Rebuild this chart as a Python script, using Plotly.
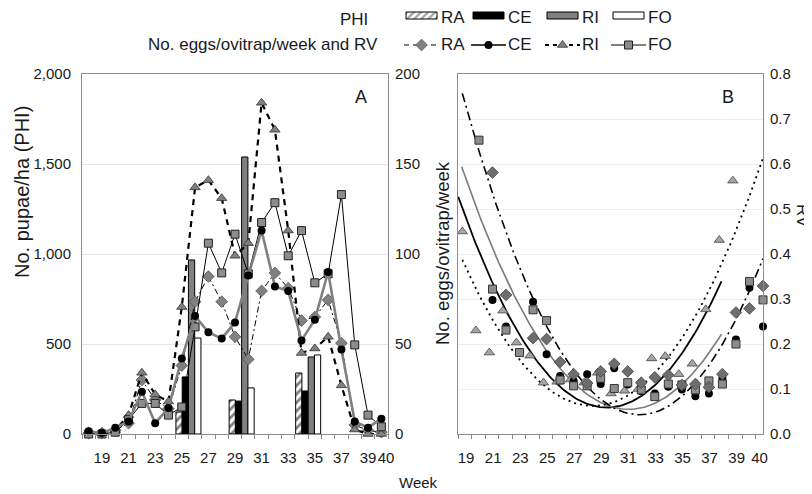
import plotly.graph_objects as go
import numpy as np

W, H = 812, 494
OFF = 8  # the page body margin shifts the figure by this many pixels

# ---------------- data ----------------
weeks = list(range(18, 41))
# Panel A: No. eggs/ovitrap/week (right axis)
eggs_RA = [0.5, 0.5, 2, 6, 30, 19, 14, 38, 73.5, 87.5, 73.5, 54, 41.5, 79.5, 89.5, 81, 63, 65, 74.5, 50.5, 5, 2, 1]
eggs_CE = [1.5, 0.5, 3.5, 7, 23.5, 6, 14.5, 42, 65.5, 56.5, 53, 62, 88, 113, 82, 79.5, 52, 63.5, 90, 47, 7, 3.5, 8.5]
eggs_RI = [1, 0.5, 2, 10.5, 34, 22, 18, 70.5, 137, 141, 131, 99, 106, 184, 169, 113, 45, 47.5, 54, 27, 2.5, 0, 0]
eggs_FO = [0, 0, 1, 8, 17, 17, 10.5, 15, 59.5, 106, 89.5, 111, 89, 117.5, 128.5, 99, 113, 84, 89, 133, 49.5, 10.5, 4]

# Panel A: PHI (No. pupae/ha), left axis
phi_week = [25.5, 29.5, 34.5]
phi_RA = [122, 189, 339]
phi_CE = [317, 183, 239]
phi_RI = [967, 1539, 428]
phi_FO = [533, 256, 439]

# Panel B: RV
rv_weeks_RI = list(range(18, 39))
rv_RI = [0.450, 0.230, 0.181, 0.274, 0.203, 0.174, 0.114, 0.116, 0.121, 0.114, 0.136,
         0.090, 0.096, 0.100, 0.168, 0.173, 0.133, 0.156, 0.277, 0.431, 0.563]
rv_weeks_FO = list(range(19, 41))
rv_FO = [0.653, 0.322, 0.231, 0.181, 0.276, 0.252, 0.120, 0.107, 0.107, 0.124, 0.101,
         0.114, 0.098, 0.083, 0.111, 0.109, 0.098, 0.118, 0.111, 0.200, 0.339, 0.298]
rv_weeks_RA = list(range(20, 41))
rv_RA = [0.581, 0.309, None, 0.213, 0.211, 0.160, 0.133, 0.113, 0.139, 0.156, 0.139,
         0.114, 0.126, 0.131, 0.109, 0.111, 0.104, 0.133, 0.270, 0.279, 0.329]
rv_weeks_CE = list(range(20, 41))
rv_CE = [0.298, 0.239, 0.181, 0.294, 0.177, 0.129, 0.118, 0.133, 0.111, 0.146, 0.110,
         0.095, 0.090, 0.105, 0.099, 0.084, 0.090, 0.124, 0.210, 0.325, 0.239]

# Trendlines of panel B (week, RV)
trend_RA_x = [17.77, 31.39, 40.0]
trend_RA_y = [0.757, 0.044, 0.390]
trend_CE_x = [17.72, 29.9, 36.93]
trend_CE_y = [0.594, 0.055, 0.222]
trend_FO_x = [17.47, 27.7, 36.93]
trend_FO_y = [0.527, 0.061, 0.339]
trend_RI_x = [17.77, 28.7, 40.0]
trend_RI_y = [0.387, 0.068, 0.613]

tick_weeks = [19, 21, 23, 25, 27, 29, 31, 33, 35, 37, 39, 40]
tick_text = ["19", "21", "23", "25", "27", "29", "31", "33", "35", "37", "39", "40"]

# ---------------- styles ----------------
FONT = "Liberation Sans, Arial, sans-serif"
TXT = "#1a1a1a"
AXC = "#8c8c8c"
GRID = "#e6e6e6"
GRAY = "#808080"
MGRAY = "#8c8c8c"
LGRAY = "#a6a6a6"


def fx(px):
    return (px - OFF) / W


def fy(py):
    return 1 - (py - OFF) / H


fig = go.Figure()

# ---- Panel A bars (PHI) ----
bw = 0.47
bar_specs = [
    (phi_RA, "white", "/", -2 * bw),
    (phi_CE, "black", "", -bw),
    (phi_RI, GRAY, "", 0),
    (phi_FO, "white", "", bw),
]
for vals, col, pat, off in bar_specs:
    fig.add_trace(go.Bar(
        x=phi_week, y=vals, width=bw, offset=off, xaxis="x", yaxis="y",
        marker=dict(color=col, line=dict(color="black", width=1),
                    pattern=dict(shape=pat, fgcolor="black", bgcolor="white", size=6, solidity=0.45)),
        showlegend=False, hoverinfo="skip"))

# ---- Panel A lines (eggs) ----
fig.add_trace(go.Scatter(x=weeks, y=eggs_RA, xaxis="x", yaxis="y2", mode="lines+markers",
                         line=dict(color="black", width=1, dash="6px,3px,2px,3px"),
                         marker=dict(symbol="diamond", size=9, color=GRAY, line=dict(color="#555", width=0.8)),
                         showlegend=False, cliponaxis=False))
fig.add_trace(go.Scatter(x=weeks, y=eggs_RI, xaxis="x", yaxis="y2", mode="lines+markers",
                         line=dict(color="black", width=2.2, dash="6px,5px"),
                         marker=dict(symbol="triangle-up", size=9, color=GRAY, line=dict(color="#333", width=0.8)),
                         showlegend=False, cliponaxis=False))
fig.add_trace(go.Scatter(x=weeks, y=eggs_FO, xaxis="x", yaxis="y2", mode="lines+markers",
                         line=dict(color="black", width=1),
                         marker=dict(symbol="square", size=8, color=MGRAY, line=dict(color="#222", width=1)),
                         showlegend=False, cliponaxis=False))
fig.add_trace(go.Scatter(x=weeks, y=eggs_CE, xaxis="x", yaxis="y2", mode="lines+markers",
                         line=dict(color=GRAY, width=2.6),
                         marker=dict(symbol="circle", size=8, color="black"),
                         showlegend=False, cliponaxis=False))


# ---- Panel B trendlines (quadratic through read points) ----
def quad(xs, ys):
    c = np.polyfit(xs, ys, 2)
    xx = np.linspace(xs[0], xs[-1], 120)
    return xx, np.polyval(c, xx)


for xs, ys, col, wd, dash in [
    (trend_FO_x, trend_FO_y, "black", 1.8, "solid"),
    (trend_CE_x, trend_CE_y, "#7a7a7a", 1.6, "solid"),
    (trend_RA_x, trend_RA_y, "black", 1.6, "9px,4px,2px,4px"),
    (trend_RI_x, trend_RI_y, "black", 1.8, "2px,4px"),
]:
    xx, yy = quad(xs, ys)
    fig.add_trace(go.Scatter(x=xx, y=yy, xaxis="x2", yaxis="y3", mode="lines",
                             line=dict(color=col, width=wd, dash=dash),
                             showlegend=False, hoverinfo="skip"))

# ---- Panel B points ----
ri_shift = -0.23
fig.add_trace(go.Scatter(x=[w + ri_shift for w in rv_weeks_RI], y=rv_RI, xaxis="x2", yaxis="y3", mode="markers",
                         marker=dict(symbol="triangle-up", size=9, color=LGRAY, line=dict(color="#444", width=0.8)),
                         showlegend=False, cliponaxis=False))
fig.add_trace(go.Scatter(x=rv_weeks_CE, y=rv_CE, xaxis="x2", yaxis="y3", mode="markers",
                         marker=dict(symbol="circle", size=8, color="black"),
                         showlegend=False, cliponaxis=False))
fig.add_trace(go.Scatter(x=rv_weeks_FO, y=rv_FO, xaxis="x2", yaxis="y3", mode="markers",
                         marker=dict(symbol="square", size=8, color=MGRAY, line=dict(color="#333", width=1)),
                         showlegend=False, cliponaxis=False))
fig.add_trace(go.Scatter(x=rv_weeks_RA, y=rv_RA, xaxis="x2", yaxis="y3", mode="markers",
                         marker=dict(symbol="diamond", size=9, color="#6e6e6e", line=dict(color="#444", width=0.8)),
                         showlegend=False, cliponaxis=False))

# ---- Legend (drawn on an overlay axis in screen pixel units) ----
col_x0 = [406, 473, 547, 613]
box_w = 31
row1_y, row2_y = 17, 45
fig.add_trace(go.Bar(x=[c + box_w / 2 for c in col_x0], y=[7, 7, 7, 7], base=[12, 12, 12, 12], width=box_w,
                     xaxis="x3", yaxis="y4",
                     marker=dict(color=["white", "black", GRAY, "white"], line=dict(color="black", width=1),
                                 pattern=dict(shape=["/", "", "", ""], fgcolor="black", bgcolor="white",
                                              size=5, solidity=0.45)),
                     showlegend=False, hoverinfo="skip"))
leg2 = [
    (dict(color="#555", width=1.5, dash="5px,4px"), dict(symbol="diamond", size=9, color=GRAY, line=dict(color="#555", width=0.8))),
    (dict(color="black", width=1.5), dict(symbol="circle", size=8, color="black")),
    (dict(color="black", width=2, dash="4px,4px"), dict(symbol="triangle-up", size=9, color=GRAY, line=dict(color="#333", width=0.8))),
    (dict(color="black", width=1), dict(symbol="square", size=8, color=MGRAY, line=dict(color="#222", width=1))),
]
for c0, (ln, mk) in zip(col_x0, leg2):
    fig.add_trace(go.Scatter(x=[c0 - 2, c0 + box_w + 2], y=[row2_y, row2_y], xaxis="x3", yaxis="y4", mode="lines",
                             line=ln, showlegend=False, hoverinfo="skip"))
    fig.add_trace(go.Scatter(x=[c0 + box_w / 2], y=[row2_y], xaxis="x3", yaxis="y4", mode="markers",
                             marker=mk, showlegend=False, hoverinfo="skip"))

annotations = []


def lab(x, y, text, size, angle=0, xanchor="center"):
    return dict(x=fx(x), y=fy(y), xref="paper", yref="paper", text=text, showarrow=False,
                xanchor=xanchor, yanchor="middle", textangle=angle,
                font=dict(family=FONT, size=size, color=TXT))


for c0, t in zip(col_x0, ["RA", "CE", "RI", "FO"]):
    for ry in (row1_y, row2_y):
        annotations.append(lab(c0 + box_w + 2, ry, t, 17, xanchor="left"))
annotations.append(lab(354, row1_y + 2, "PHI", 17))
annotations.append(lab(380, row2_y, "No. eggs/ovitrap/week and RV", 17, xanchor="right"))
annotations += [
    lab(22, 192, "No. pupae/ha (PHI)", 20, -90),
    lab(442, 253, "No. eggs/ovitrap/week", 18.5, -90),
    lab(803, 216, "RV", 17, 90),
    lab(418, 482, "Week", 15),
    lab(361, 97, "A", 18),
    lab(728, 97, "B", 18),
]

xA = [fx(82), fx(388)]
xB = [fx(458), fx(763)]
yD = [fy(434), fy(74)]
tickfont = dict(family=FONT, size=15, color=TXT)
axbase = dict(showline=True, linecolor=AXC, linewidth=1, zeroline=False, tickfont=tickfont, ticks="",
              automargin=False)

tickvals_A = tick_weeks[:-1] + [40.35]
tickvals_B = [w - 0.95 for w in tick_weeks[:-1]] + [39.75]

fig.update_layout(
    width=W, height=H, margin=dict(l=0, r=0, t=0, b=0, autoexpand=False),
    paper_bgcolor="white", plot_bgcolor="rgba(0,0,0,0)",
    barmode="overlay", showlegend=False,
    annotations=annotations,
    xaxis=dict(axbase, domain=xA, range=[17.5, 40.5], anchor="y", mirror=True, showgrid=False,
               tickmode="array", tickvals=tickvals_A, ticktext=tick_text, tickangle=0, ticklabelstandoff=10,
               minor=dict(ticks="outside", ticklen=4, tickcolor=AXC, tickmode="linear", tick0=17.5, dtick=1,
                          showgrid=False)),
    yaxis=dict(axbase, domain=yD, range=[0, 2000], anchor="x", mirror=True, showgrid=True, gridcolor=GRID,
               tickmode="array", tickvals=[0, 500, 1000, 1500, 2000], tickformat=",", ticklabelstandoff=7),
    yaxis2=dict(axbase, overlaying="y", side="right", anchor="x", range=[0, 200], showgrid=False,
                tickmode="array", tickvals=[0, 50, 100, 150, 200], ticklabelstandoff=3),
    xaxis2=dict(axbase, domain=xB, range=[17.45, 40.0], anchor="y3", mirror=True, showgrid=False,
                tickmode="array", tickvals=tickvals_B, ticktext=tick_text,
                tickangle=0, ticklabelstandoff=10,
                minor=dict(ticks="outside", ticklen=4, tickcolor=AXC, tickmode="linear", tick0=17.45, dtick=1,
                           showgrid=False)),
    yaxis3=dict(axbase, domain=yD, range=[0, 0.8], anchor="x2", side="right", mirror=True, showgrid=True,
                gridcolor="#eeeeee", tickmode="array", tickvals=[0, 0.1, 0.2, 0.3, 0.4, 0.5, 0.6, 0.7, 0.8],
                tickformat=".1f", ticklabelstandoff=3),
    xaxis3=dict(domain=[0, 1], range=[OFF, W + OFF], visible=False, fixedrange=True, anchor="y4"),
    yaxis4=dict(domain=[0, 1], range=[H + OFF, OFF], visible=False, fixedrange=True, anchor="x3"),
)

fig.write_html("out.html")
